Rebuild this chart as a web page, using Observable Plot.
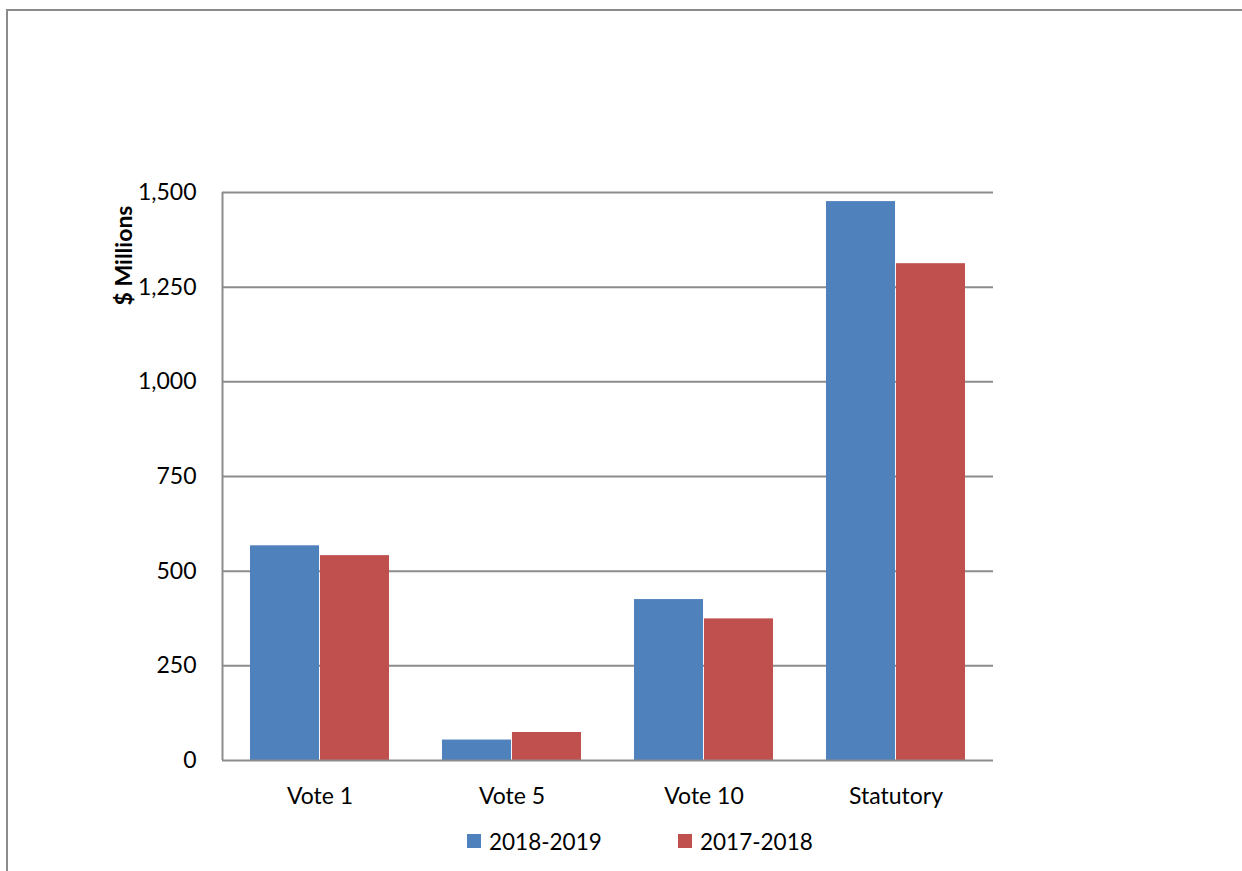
<!DOCTYPE html>
<html>
<head>
<meta charset="utf-8">
<script src="https://cdn.jsdelivr.net/npm/d3@7"></script>
<script src="https://cdn.jsdelivr.net/npm/@observablehq/plot@0.6"></script>
<style>
  html, body { margin: 0; padding: 0; background: #fff; }
  body { width: 1242px; height: 871px; position: relative; overflow: hidden; font-family: Lato, "Open Sans", sans-serif; }
  #border { position: absolute; left: 6px; top: 9px; right: -10px; bottom: -10px; border-top: 2px solid #8c8c8c; border-left: 2px solid #8c8c8c; }
  #chart { position: absolute; left: 0; top: 0; }
  #legend { position: absolute; top: 826px; left: 0; width: 1242px; height: 30px; font-size: 22.5px; color: #000; }
  .item { position: absolute; display: flex; align-items: center; height: 30px; }
  .sw { width: 14px; height: 14px; margin-right: 8px; }
</style>
</head>
<body>
<div id="border"></div>
<div id="chart"></div>
<div id="legend"></div>
<script>
const categories = ["Vote 1", "Vote 5", "Vote 10", "Statutory"];
const seriesNames = ["2018-2019", "2017-2018"];
const values2018_2019 = [567, 54, 425, 1476];
const values2017_2018 = [541, 74, 374, 1312];
const yTicks = [0, 250, 500, 750, 1000, 1250, 1500];
const colors = ["#4F81BD", "#C0504D"];
const yLabel = "$ Millions";

const data = [];
categories.forEach((c, i) => {
  data.push({category: c, series: seriesNames[0], value: values2018_2019[i]});
  data.push({category: c, series: seriesNames[1], value: values2017_2018[i]});
});

const width = 1242, height = 800;
const marginLeft = 222, marginRight = 249, marginTop = 192, marginBottom = 40;
const frameWidth = width - marginLeft - marginRight;
const paddingInner = 0.274, paddingOuter = 0.137;
const step = frameWidth / (categories.length - paddingInner + 2 * paddingOuter);
const bandwidth = step * (1 - paddingInner);
const half = bandwidth / 2;

const fmt = d3.format(",");

const chart = Plot.plot({
  width, height, marginLeft, marginRight, marginTop, marginBottom,
  style: {fontFamily: "Lato, 'Open Sans', sans-serif", fontSize: "23px", color: "#000", background: "transparent", overflow: "visible"},
  x: {domain: categories, paddingInner, paddingOuter, label: null, tickSize: 0, tickPadding: 27},
  y: {domain: [0, 1500], ticks: yTicks, tickFormat: fmt, label: null, tickSize: 0, tickPadding: 26},
  color: {domain: seriesNames, range: colors},
  marks: [
    Plot.ruleY(yTicks.filter(d => d > 0), {stroke: "#8c8c8c", strokeWidth: 2, strokeOpacity: 1}),
    Plot.barY(data.filter(d => d.series === seriesNames[0]), {x: "category", y: "value", fill: "series", insetRight: half}),
    Plot.barY(data.filter(d => d.series === seriesNames[1]), {x: "category", y: "value", fill: "series", insetLeft: half}),
    Plot.ruleY([0], {stroke: "#8c8c8c", strokeWidth: 2}),
    Plot.ruleX([0], {x: null, dx: -frameWidth / 2, y1: 0, y2: 1500, stroke: "#8c8c8c", strokeWidth: 2}),
    Plot.text([yLabel], {frameAnchor: "top-left", dx: -107, dy: 63, rotate: -90, fontWeight: "bold", fontSize: 23, textAnchor: "middle"})
  ]
});
document.getElementById("chart").appendChild(chart);

// legend
const legend = document.getElementById("legend");
const legendX = [467, 678];
seriesNames.forEach((s, i) => {
  const item = document.createElement("div");
  item.className = "item";
  item.style.left = legendX[i] + "px";
  const sw = document.createElement("span");
  sw.className = "sw";
  sw.style.background = colors[i];
  const t = document.createElement("span");
  t.textContent = s;
  item.appendChild(sw);
  item.appendChild(t);
  legend.appendChild(item);
});
</script>
</body>
</html>
